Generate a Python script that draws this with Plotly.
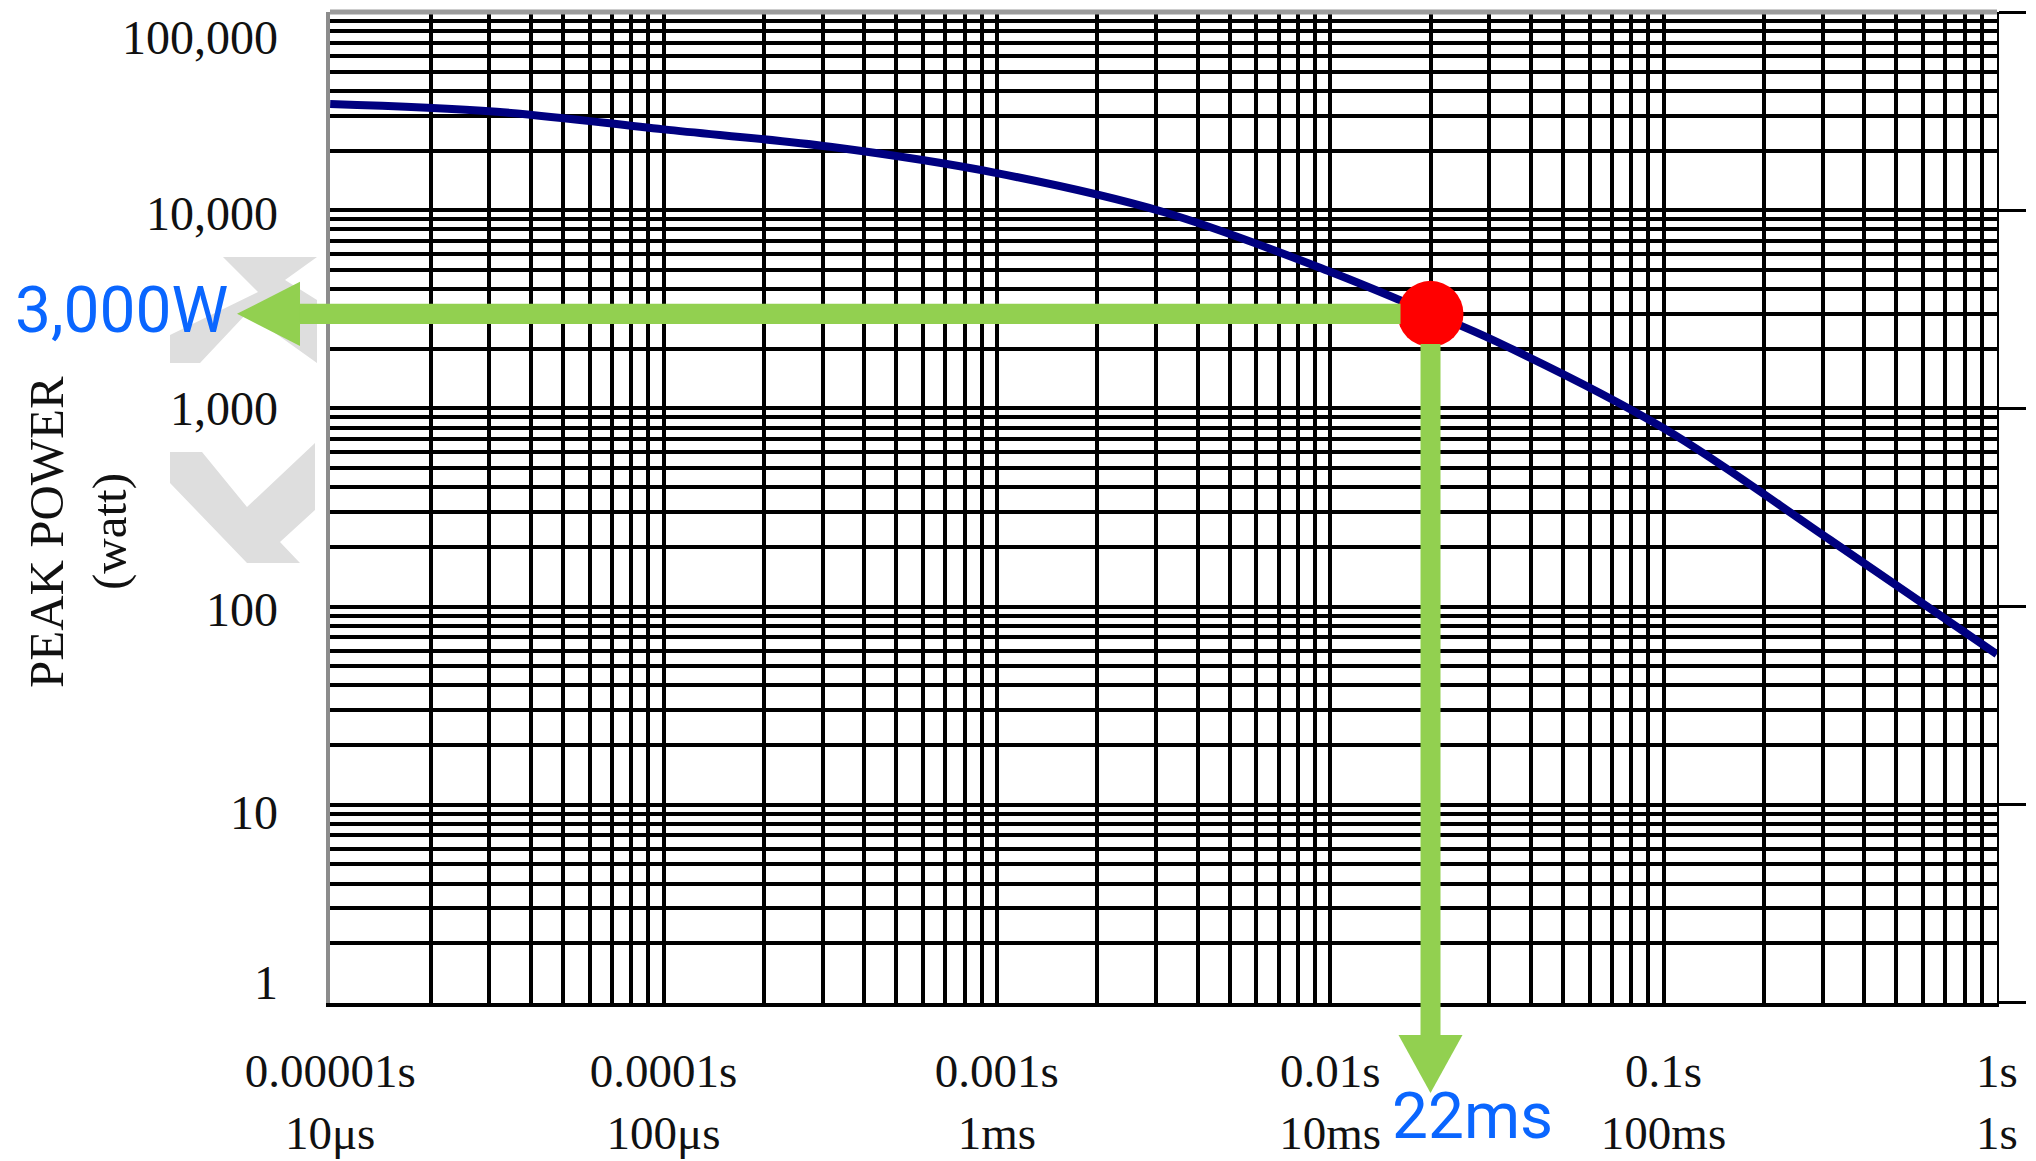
import math
import plotly.graph_objects as go

# ---------------- data ----------------
pulse_time_s = [1e-5, 3.16e-5, 1e-4, 3.16e-4, 1e-3, 3.16e-3, 1e-2, 2e-2, 3.16e-2, 0.1, 0.316, 1.0]
peak_power_w = [34400, 31400, 25600, 20900, 15400, 9800, 4900, 3030, 2170, 795, 217, 57.5]

op_time_s = [0.02]
op_power_w = [3000]
op_power_label = "3,000W"
op_time_label = "22ms"

x_decades = [1e-5, 1e-4, 1e-3, 1e-2, 1e-1, 1.0]
x_labels = ["0.00001s<br>10\u03bcs", "0.0001s<br>100\u03bcs", "0.001s<br>1ms",
            "0.01s<br>10ms", "0.1s<br>100ms", "1s<br>1s"]
y_decades = [1, 10, 100, 1000, 10000, 100000]
y_labels = ["1", "10", "100", "1,000", "10,000", "100,000"]
y_title_lines = ["PEAK POWER", "(watt)"]

# ---------------- geometry / style ----------------
W, H = 2036, 1161
L, R, T, B = 330, 39, 12, 158
PW = W - L - R
PH = H - T - B
XR = [-5.0005, 0.0005]
YR = [-0.0005, 5.0005]
SERIF = "Liberation Serif, Times New Roman, serif"
SANS = "Roboto, Arial, sans-serif"
BLUE = "#0a66ff"
GREEN = "#92d050"
GRID_W = 4
TXT = "#111111"
# pixel nudges of the printed y labels relative to their decade lines
y_label_shift = [20, -8, -3, 0, -3, -25]
# horizontal centres (px) of the two rotated title lines
y_title_x = [46, 109]


def grid_ticks(decades, labels):
    vals, texts = [], []
    for d, lab in zip(decades[:-1], labels[:-1]):
        for k in range(1, 10):
            vals.append(k * d)
            texts.append(lab if k == 1 else "")
    vals.append(decades[-1])
    texts.append(labels[-1])
    return vals, texts


xv, xt = grid_ticks(x_decades, x_labels)
yv, _ = grid_ticks(y_decades, y_labels)


def data_px(t, p):
    px = L + PW * (math.log10(t) - XR[0]) / (XR[1] - XR[0])
    py = T + PH * (YR[1] - math.log10(p)) / (YR[1] - YR[0])
    return px, py


def pxx(px):
    return (px - L) / PW


def pyy(py):
    return (T + PH - py) / PH


fig = go.Figure()
fig.add_trace(go.Scatter(x=pulse_time_s, y=peak_power_w, mode="lines",
                         line=dict(color="#000080", width=8, shape="spline", smoothing=1.0),
                         hoverinfo="skip", showlegend=False))
fig.add_trace(go.Scatter(x=op_time_s, y=op_power_w, mode="markers", yaxis="y2",
                         marker=dict(size=66, color="#ff0000", line=dict(width=0)),
                         cliponaxis=False, hoverinfo="skip", showlegend=False))

shapes = []
# faint watermark (decorative)
wm_lower = [(170, 452), (202, 452), (247, 507), (315, 443), (315, 510),
            (280, 542), (300, 563), (247, 563), (170, 483)]
wm_upper = [(170, 363), (200, 363), (247, 313), (317, 363), (317, 300),
            (285, 280), (317, 257), (223, 257), (258, 292), (170, 335)]


def poly_path(pts):
    return "M " + " L ".join(f"{pxx(x):.5f},{pyy(y):.5f}" for x, y in pts) + " Z"


for poly in (wm_lower, wm_upper):
    shapes.append(dict(type="path", xref="paper", yref="paper", path=poly_path(poly),
                       fillcolor="#dedede", line=dict(width=0), layer="below"))

# top border
shapes.append(dict(type="line", xref="paper", yref="paper", x0=0, x1=1, y0=1, y1=1,
                   line=dict(color="#9c9c9c", width=5), layer="above"))

# arrows from the operating point
dx, dy = data_px(op_time_s[0], op_power_w[0])
SH, HL, HH, GAP = 10, 63, 32, 30
h_tip = L - 93          # arrow tip left of the axis
v_tip = T + PH + 90     # arrow tip below the axis

shapes.append(dict(type="path", xref="paper", yref="paper", fillcolor=GREEN, line=dict(width=0),
                   path=poly_path([(h_tip + HL - 1, dy - SH), (dx - GAP, dy - SH),
                                   (dx - GAP, dy + SH), (h_tip + HL - 1, dy + SH)])))
shapes.append(dict(type="path", xref="paper", yref="paper", fillcolor=GREEN, line=dict(width=0),
                   path=poly_path([(h_tip, dy), (h_tip + HL, dy - HH), (h_tip + HL, dy + HH)])))
shapes.append(dict(type="path", xref="paper", yref="paper", fillcolor=GREEN, line=dict(width=0),
                   path=poly_path([(dx - SH, dy + GAP), (dx + SH, dy + GAP),
                                   (dx + SH, v_tip - 57), (dx - SH, v_tip - 57)])))
shapes.append(dict(type="path", xref="paper", yref="paper", fillcolor=GREEN, line=dict(width=0),
                   path=poly_path([(dx, v_tip), (dx - HH, v_tip - 58), (dx + HH, v_tip - 58)])))

annotations = [
    dict(text=op_power_label, xref="paper", yref="y", x=pxx(121), y=math.log10(op_power_w[0]),
         xanchor="center", yanchor="middle", showarrow=False, yshift=3,
         font=dict(family=SANS, size=64, color=BLUE)),
    dict(text=op_time_label, xref="x", yref="paper", x=math.log10(op_time_s[0]), y=pyy(1116),
         xanchor="center", yanchor="middle", showarrow=False, xshift=42,
         font=dict(family=SANS, size=64, color=BLUE)),
]
for line, cx in zip(y_title_lines, y_title_x):
    annotations.append(dict(text=line, textangle=-90, xref="paper", yref="paper",
                            x=pxx(cx), y=pyy(532), xanchor="center", yanchor="middle",
                            showarrow=False, font=dict(family=SERIF, size=49, color=TXT)))
for val, lab, sh in zip(y_decades, y_labels, y_label_shift):
    annotations.append(dict(text=lab, xref="paper", yref="y", x=pxx(280), y=math.log10(val),
                            xanchor="right", yanchor="middle", showarrow=False, yshift=sh,
                            font=dict(family=SERIF, size=48, color=TXT)))

fig.update_layout(
    width=W, height=H,
    margin=dict(l=L, r=R, t=T, b=B, pad=0, autoexpand=False),
    paper_bgcolor="white", plot_bgcolor="white",
    showlegend=False,
    shapes=shapes,
    annotations=annotations,
    xaxis=dict(type="log", range=XR, tickmode="array", tickvals=xv, ticktext=xt,
               showgrid=True, gridcolor="black", gridwidth=GRID_W, automargin=False,
               ticks="outside", ticklen=24, tickcolor="rgba(0,0,0,0)",
               tickfont=dict(family=SERIF, size=47, color=TXT),
               showline=True, linecolor="black", linewidth=4, zeroline=False),
    yaxis=dict(type="log", range=YR, tickmode="array", tickvals=yv, showticklabels=False,
               showgrid=True, gridcolor="black", gridwidth=GRID_W, automargin=False,
               showline=True, linecolor="#8c8c8c", linewidth=4, zeroline=False),
    yaxis2=dict(type="log", range=YR, overlaying="y", side="right", automargin=False,
                tickmode="array", tickvals=y_decades, ticks="outside", ticklen=27,
                tickwidth=2.5, tickcolor="black", showticklabels=False, showgrid=False,
                showline=True, linecolor="black", linewidth=2, zeroline=False),
)

fig.write_html("out.html", config={"displayModeBar": False},
               post_script="document.body.style.margin='0px';document.body.style.overflow='hidden';")
